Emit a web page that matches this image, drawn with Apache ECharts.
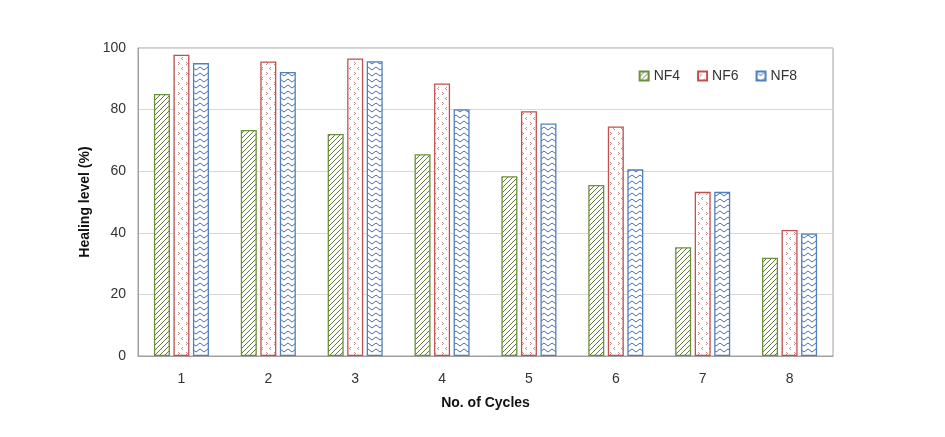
<!DOCTYPE html>
<html><head><meta charset="utf-8">
<script src="https://cdn.jsdelivr.net/npm/echarts@6/dist/echarts.min.js"></script>
<style>html,body{margin:0;padding:0;background:#fff}#c{width:945px;height:437px}</style>
</head><body><div id="c"></div>
<script>
const categories = ['1','2','3','4','5','6','7','8'];
const nf4 = [85.1, 73.4, 72.1, 65.5, 58.4, 55.5, 35.3, 31.9];
const nf6 = [97.8, 95.6, 96.6, 88.5, 79.5, 74.5, 53.3, 40.9];
const nf8 = [95.1, 92.2, 95.7, 80.1, 75.5, 60.6, 53.3, 39.8];
const seriesNames = ['NF4','NF6','NF8'];
const yTicks = [0, 20, 40, 60, 80, 100];

function mk(w, h, draw) {
  const c = document.createElement('canvas');
  c.width = w; c.height = h;
  const g = c.getContext('2d');
  g.fillStyle = '#fff'; g.fillRect(0, 0, w, h);
  draw(g);
  return c;
}
const greenPat = mk(5, 5, g => {
  g.strokeStyle = '#5f7d30'; g.lineWidth = 1;
  g.beginPath();
  g.moveTo(-1, 6); g.lineTo(6, -1);
  g.moveTo(-6, 6); g.lineTo(1, -1);
  g.moveTo(4, 6); g.lineTo(11, -1);
  g.stroke();
});
const redPat = mk(8, 10, g => {
  g.fillStyle = '#c98a88';
  g.fillRect(2, 2, 1, 1); g.fillRect(3, 3, 1, 1); g.fillRect(2, 4, 1, 1);
  g.fillRect(6, 7, 1, 1); g.fillRect(5, 8, 1, 1); g.fillRect(6, 9, 1, 1);
});
const bluePat = mk(8, 6, g => {
  g.strokeStyle = '#4a6fa8'; g.lineWidth = 1;
  g.beginPath();
  g.moveTo(0, 1); g.lineTo(4, 4); g.lineTo(8, 1);
  g.stroke();
});

const chart = echarts.init(document.getElementById('c'));
const mkSeries = (name, data, pat, border) => ({
  name, type: 'bar', data,
  barWidth: 16, barGap: '22%',
  itemStyle: { color: { image: pat, repeat: 'repeat' }, borderColor: border, borderWidth: 1.3 }
});
chart.setOption({
  animation: false,
  backgroundColor: '#fff',
  grid: { left: 138, right: 112, top: 48, bottom: 81, show: true, borderColor: '#a0a0a0', borderWidth: 1 },
  legend: {
    right: 143, top: 64, itemWidth: 9, itemHeight: 9, itemGap: 17, icon: 'rect',
    textStyle: { fontFamily: 'Liberation Sans', fontSize: 14, color: '#333' },
    data: seriesNames
  },
  xAxis: {
    type: 'category', data: categories,
    name: 'No. of Cycles', nameLocation: 'middle', nameGap: 40,
    nameTextStyle: { fontFamily: 'Liberation Sans', fontWeight: 'bold', fontSize: 14, color: '#111' },
    axisLine: { lineStyle: { color: '#a0a0a0' } },
    axisTick: { show: false },
    axisLabel: { fontFamily: 'Liberation Sans', fontSize: 14, color: '#333', margin: 16 }
  },
  yAxis: {
    type: 'value', min: yTicks[0], max: yTicks[yTicks.length - 1], interval: 20,
    name: 'Healing level (%)', nameLocation: 'middle', nameGap: 34,
    nameTextStyle: { fontFamily: 'Liberation Sans', fontWeight: 'bold', fontSize: 14, color: '#111' },
    axisLine: { show: true, lineStyle: { color: '#a0a0a0' } },
    axisTick: { show: false },
    axisLabel: { fontFamily: 'Liberation Sans', fontSize: 14, color: '#333', margin: 12 },
    splitLine: { lineStyle: { color: '#d8d8d8' } }
  },
  series: [
    mkSeries(seriesNames[0], nf4, greenPat, '#6b8f3a'),
    mkSeries(seriesNames[1], nf6, redPat, '#c0504d'),
    mkSeries(seriesNames[2], nf8, bluePat, '#4f81bd')
  ]
});
</script></body></html>
